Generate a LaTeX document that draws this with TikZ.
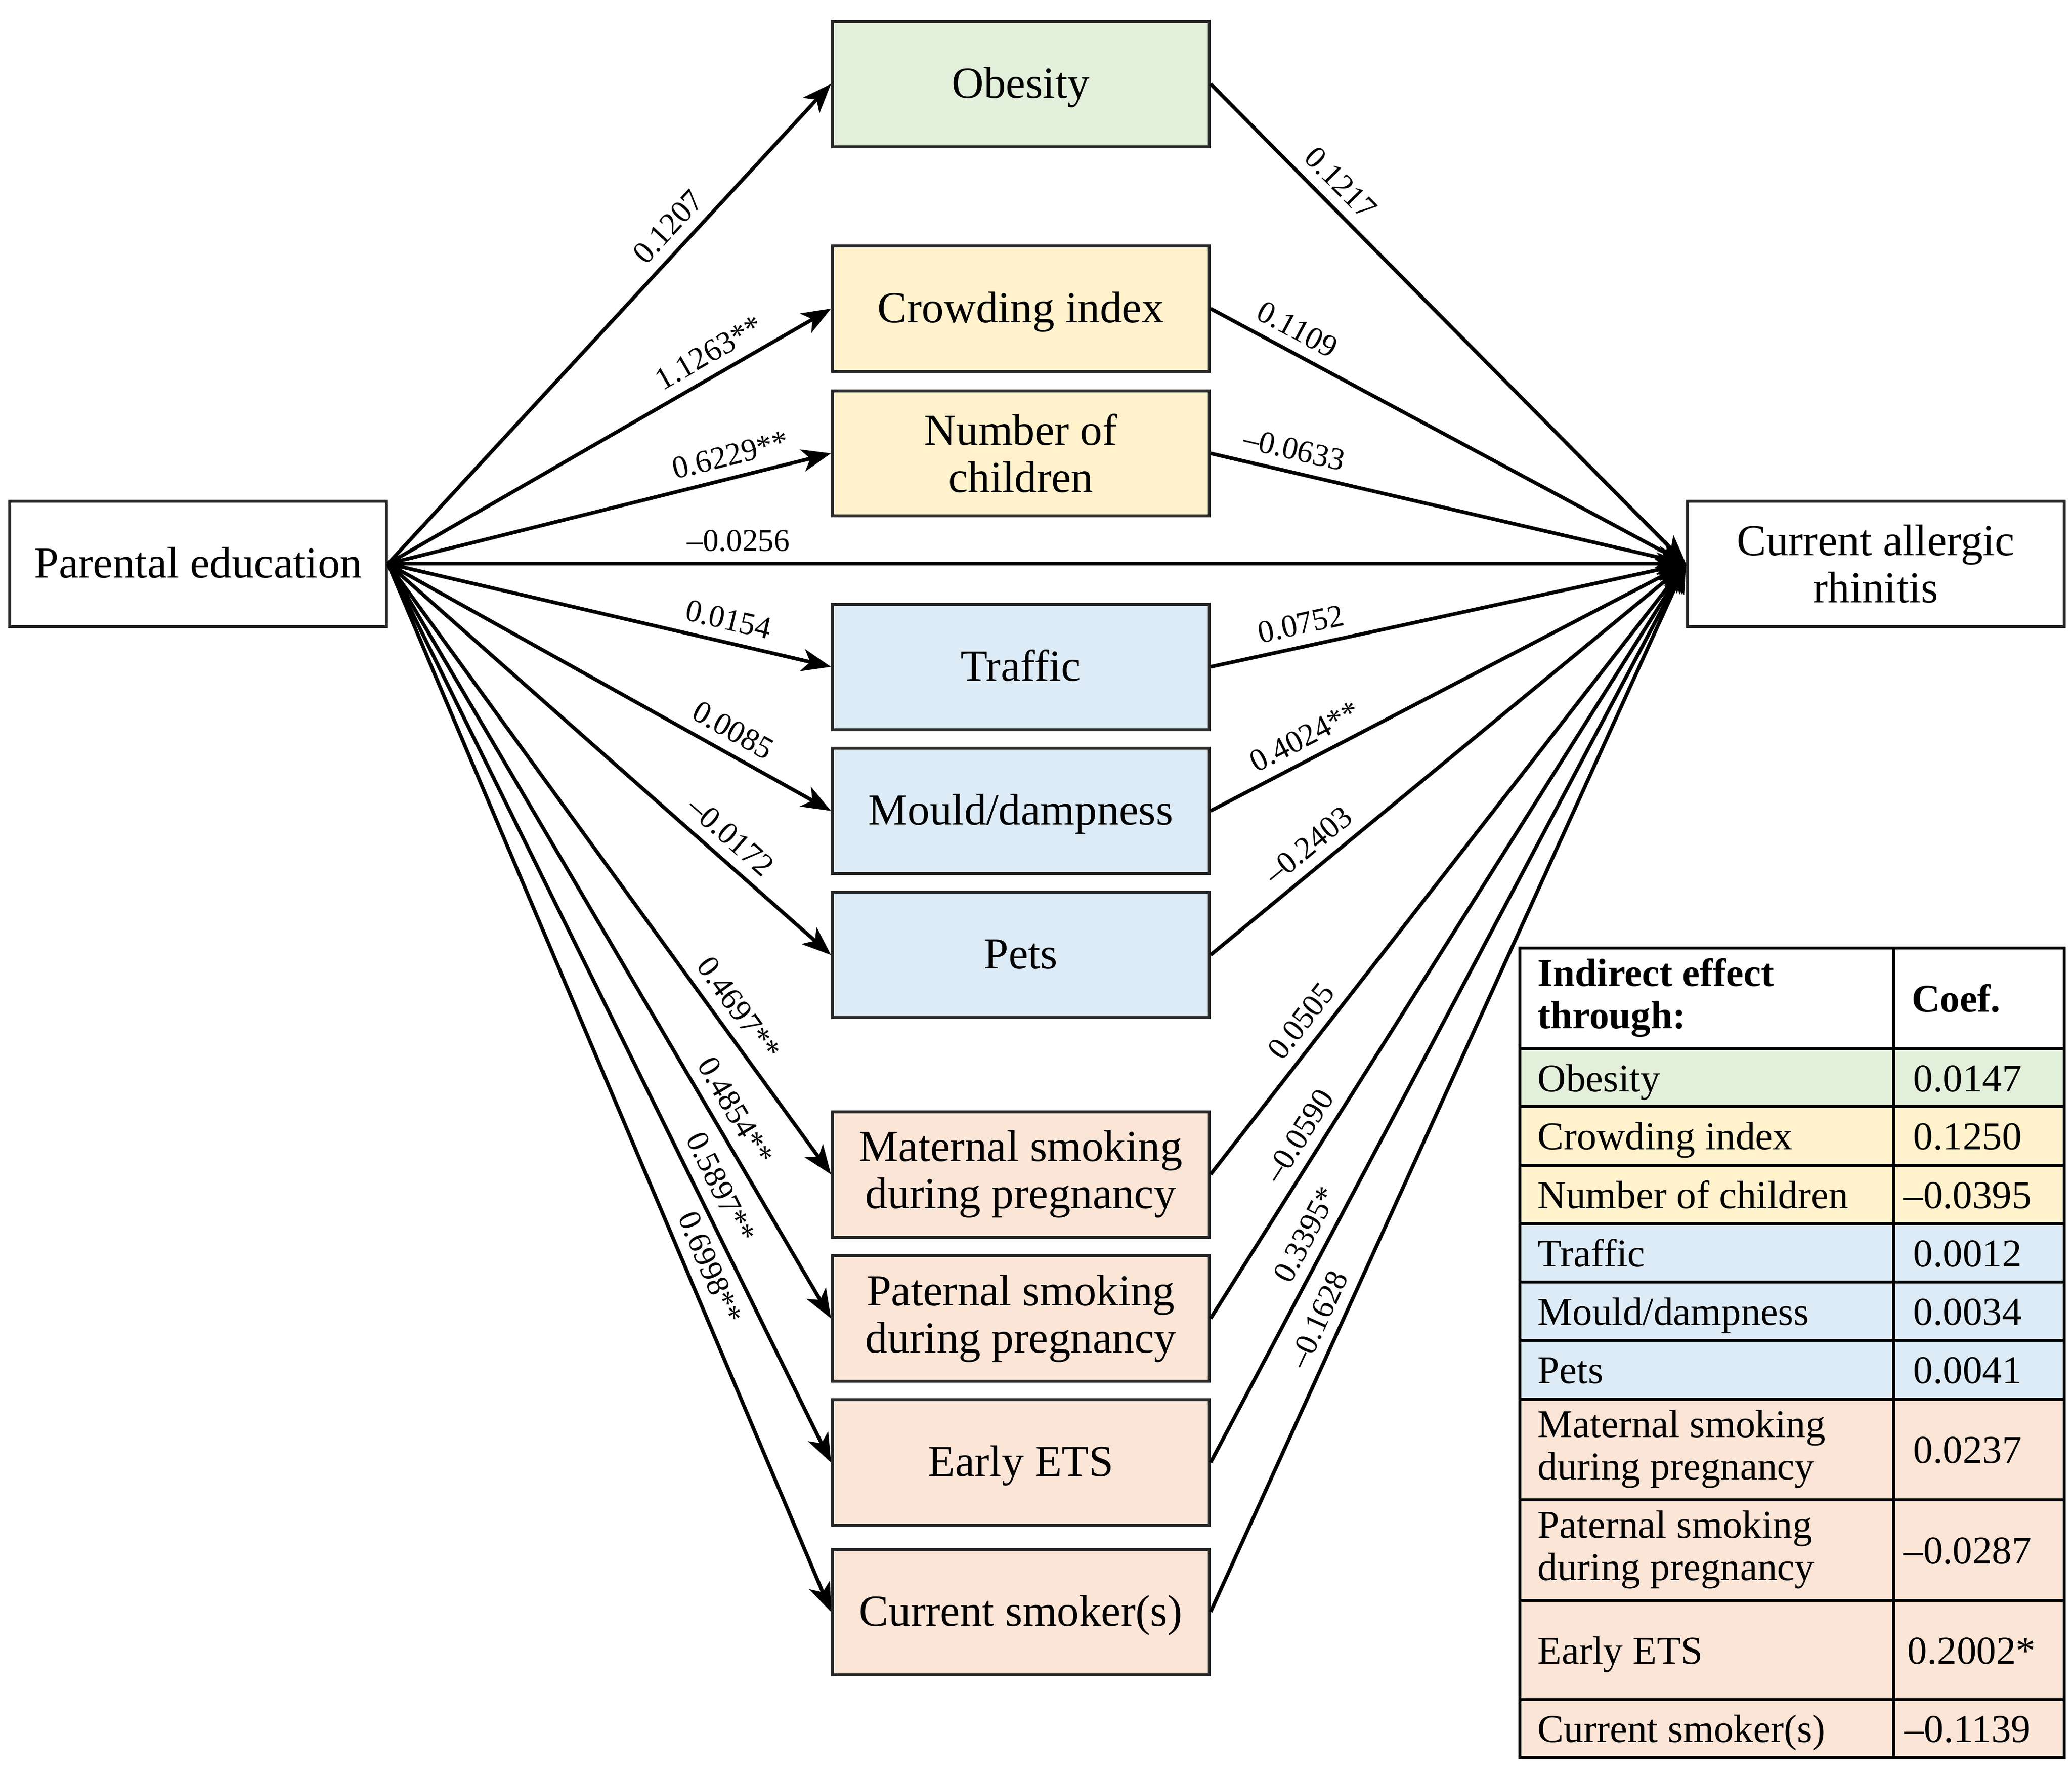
\documentclass[tikz,border=0pt]{standalone}
\usepackage{fontspec}
\setmainfont{Liberation Serif}
\usetikzlibrary{arrows.meta}
\definecolor{cgreen}{HTML}{E2EFDA}
\definecolor{cyellow}{HTML}{FFF2CC}
\definecolor{cblue}{HTML}{DDEBF7}
\definecolor{csalmon}{HTML}{FBE5D6}
\newcommand\boxfont{\fontsize{9.1}{9.7}\selectfont}
\newcommand\labfont{\fontsize{6.5}{7.5}\selectfont}
\newcommand\tabfont{\fontsize{8.1}{8.7}\selectfont}
\tikzset{
  varbox/.style={draw=black!85, line width=0.6pt, minimum width=77.5pt, minimum height=25.8pt,
    inner sep=0pt, align=center, font=\boxfont, text height=1.6ex, text depth=0.35ex},
  varbox2/.style={draw=black!85, line width=0.6pt, minimum width=77.5pt, minimum height=25.8pt,
    inner sep=0pt, align=center, font=\boxfont},
  edge/.style={line width=0.75pt, -{Stealth[length=6pt,width=4.6pt,inset=1.6pt]}},
  elab/.style={font=\labfont, sloped, above, inner sep=2.1pt},
  tcell/.style={font=\tabfont, anchor=west, inner sep=0pt, align=left},
  tone/.style={text height=1.55ex, text depth=0.3ex},
  tval/.style={font=\tabfont, anchor=center, inner sep=0pt, text height=1.55ex, text depth=0.3ex},
  tline/.style={draw=black, line width=0.6pt}
}
\begin{document}
\begin{tikzpicture}[x=0.2719pt,y=-0.2719pt]
\useasboundingbox (0,0) rectangle (1568,1342.6);

% main nodes
\node[varbox] (pe) at (150,426.5) {Parental education};
\node[varbox2] (car) at (1419.5,426.5) {Current allergic\\rhinitis};

% mediators
\node[varbox, fill=cgreen]   (ob) at (772.5,63.5)   {Obesity};
\node[varbox, fill=cyellow]  (cr) at (772.5,233.5)  {Crowding index};
\node[varbox2, fill=cyellow] (nc) at (772.5,343)    {Number of\\children};
\node[varbox, fill=cblue]    (tr) at (772.5,504.5)  {Traffic};
\node[varbox, fill=cblue]    (mo) at (772.5,613.5)  {Mould/dampness};
\node[varbox, fill=cblue]    (pt) at (772.5,722.5)  {Pets};
\node[varbox2, fill=csalmon] (ma) at (772.5,888.5)  {Maternal smoking\\during pregnancy};
\node[varbox2, fill=csalmon] (pa) at (772.5,997.5)  {Paternal smoking\\during pregnancy};
\node[varbox, fill=csalmon]  (ea) at (772.5,1106.5) {Early ETS};
\node[varbox, fill=csalmon]  (cs) at (772.5,1219.5) {Current smoker(s)};

% left edges
\draw[edge] (pe.east) -- node[elab,pos=0.67] {0.1207} (ob.west);
\draw[edge] (pe.east) -- node[elab,pos=0.75] {1.1263**} (cr.west);
\draw[edge] (pe.east) -- node[elab,pos=0.785] {0.6229**} (nc.west);
\draw[edge] (pe.east) -- node[elab,pos=0.27] {\textendash0.0256} (car.west);
\draw[edge] (pe.east) -- node[elab,pos=0.757] {0.0154} (tr.west);
\draw[edge] (pe.east) -- node[elab,pos=0.754] {0.0085} (mo.west);
\draw[edge] (pe.east) -- node[elab,pos=0.74] {\textendash0.0172} (pt.west);
\draw[edge] (pe.east) -- node[elab,pos=0.75] {0.4697**} (ma.west);
\draw[edge] (pe.east) -- node[elab,pos=0.74] {0.4854**} (pa.west);
\draw[edge] (pe.east) -- node[elab,pos=0.705] {0.5897**} (ea.west);
\draw[edge] (pe.east) -- node[elab,pos=0.68] {0.6998**} (cs.west);

% right edges
\draw[edge] (ob.east) -- node[elab,pos=0.24] {0.1217} (car.west);
\draw[edge] (cr.east) -- node[elab,pos=0.16] {0.1109} (car.west);
\draw[edge] (nc.east) -- node[elab,pos=0.165] {\textendash0.0633} (car.west);
\draw[edge] (tr.east) -- node[elab,pos=0.2] {0.0752} (car.west);
\draw[edge] (mo.east) -- node[elab,pos=0.22] {0.4024**} (car.west);
\draw[edge] (pt.east) -- node[elab,pos=0.236] {\textendash0.2403} (car.west);
\draw[edge] (ma.east) -- node[elab,pos=0.228] {0.0505} (car.west);
\draw[edge] (pa.east) -- node[elab,pos=0.226] {\textendash0.0590} (car.west);
\draw[edge] (ea.east) -- node[elab,pos=0.242] {0.3395*} (car.west);
\draw[edge] (cs.east) -- node[elab,pos=0.27] {\textendash0.1628} (car.west);

% table backgrounds
\fill[white]   (1150,717.2)  rectangle (1562,793.3);
\fill[cgreen]  (1150,793.3)  rectangle (1562,837.1);
\fill[cyellow] (1150,837.1)  rectangle (1562,925.7);
\fill[cblue]   (1150,925.7)  rectangle (1562,1058.5);
\fill[csalmon] (1150,1058.5) rectangle (1562,1329.5);
% table grid
\draw[tline] (1150,717.2) rectangle (1562,1329.5);
\foreach \yy in {793.3,837.1,881.6,925.7,969.8,1014.0,1058.5,1134.6,1210.7,1285.8}
  \draw[tline] (1150,\yy) -- (1562,\yy);
\draw[tline] (1433,717.2) -- (1433,1329.5);

% table text
\node[tcell] (th1) at (1163,755) {\bfseries Indirect effect\\\bfseries through:};
\node[tcell,tone] (th2) at (1446,755) {\bfseries Coef.};
\node[tcell,tone] (r1) at (1163,815.2) {Obesity};
\node[tcell,tone] (r2) at (1163,859.3) {Crowding index};
\node[tcell,tone] (r3) at (1163,903.6) {Number of children};
\node[tcell,tone] (r4) at (1163,947.7) {Traffic};
\node[tcell,tone] (r5) at (1163,991.9) {Mould/dampness};
\node[tcell,tone] (r6) at (1163,1036.2) {Pets};
\node[tcell] (r7) at (1163,1096.5) {Maternal smoking\\during pregnancy};
\node[tcell] (r8) at (1163,1172.6) {Paternal smoking\\during pregnancy};
\node[tcell,tone] (r9) at (1163,1248.2) {Early ETS};
\node[tcell,tone] (r10) at (1163,1307.6) {Current smoker(s)};

\node[tval] (v1) at (1489,815.2) {0.0147};
\node[tval] (v2) at (1489,859.3) {0.1250};
\node[tval] (v3) at (1489,903.6) {\textendash0.0395};
\node[tval] (v4) at (1489,947.7) {0.0012};
\node[tval] (v5) at (1489,991.9) {0.0034};
\node[tval] (v6) at (1489,1036.2) {0.0041};
\node[tval] (v7) at (1489,1096.5) {0.0237};
\node[tval] (v8) at (1489,1172.6) {\textendash0.0287};
\node[tval] (v9) at (1492,1248.2) {0.2002*};
\node[tval] (v10) at (1489,1307.6) {\textendash0.1139};
\end{tikzpicture}
\end{document}
